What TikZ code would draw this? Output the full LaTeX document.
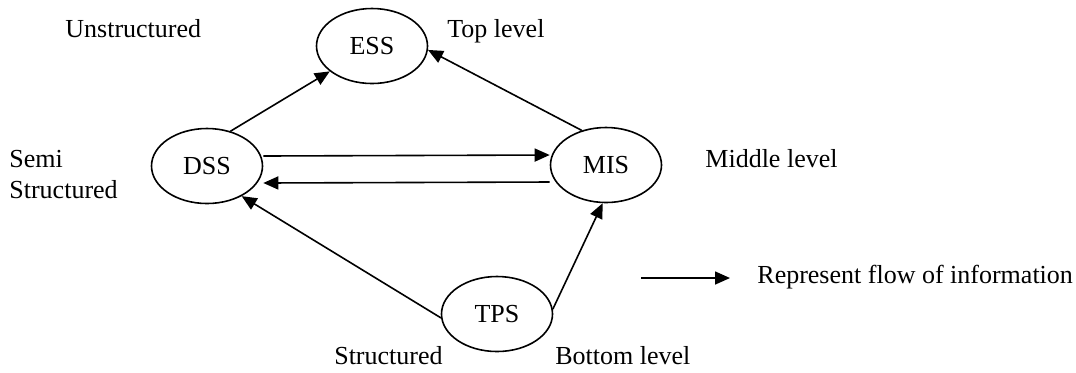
\documentclass[tikz,border=0pt]{standalone}
\usepackage{fontspec}
\setmainfont{Liberation Serif}
\usetikzlibrary{positioning,arrows.meta,shapes.geometric}
\tikzset{
  sys/.style={ellipse,draw,line width=0.8pt,minimum width=55.5pt,minimum height=37.5pt,inner sep=0pt},
  flow/.style={line width=0.8pt,-{Triangle[length=7.5pt,width=6.5pt]}},
  lab/.style={anchor=base west,inner sep=0pt},
  every picture/.style={font=\fontsize{13}{15}\selectfont}
}
\begin{document}
\begin{tikzpicture}[x=0.5pt,y=-0.5pt]
    \useasboundingbox (0,0) rectangle (1076,372);
    % systems
    \node[sys] (ESS) at (372,46) {ESS};
    \node[sys] (DSS) at (207,166) {DSS};
    \node[sys] (MIS) at (606,165) {MIS};
    \node[sys] (TPS) at (497,314) {TPS};
    % level labels
    \node[lab] (unst) at (65,37) {Unstructured};
    \node[lab] (top) at (447,37) {Top level};
    \node[lab] (semi) at (9,167) {Semi};
    \node[lab] (semist) at (9,198) {Structured};
    \node[lab] (mid) at (705,167) {Middle level};
    \node[lab,anchor=base east] (st) at (443,364) {Structured};
    \node[lab] (bot) at (555,364) {Bottom level};
    % flows
    \draw[flow] (DSS.56) -- (ESS.211);
    \draw[flow] (MIS.125) -- (ESS.-4);
    \draw[flow] ([yshift=5pt]DSS.east) -- ([yshift=5pt]MIS.west);
    \draw[flow] ([yshift=-8.5pt]MIS.west) -- ([yshift=-8.5pt]DSS.east);
    \draw[flow] (TPS.184) -- (DSS.-41);
    \draw[flow] (TPS.5) -- (MIS.-95);
    % legend
    \coordinate (legS) at (641,278);
    \coordinate (legE) at (730,278);
    \draw[flow] (legS) -- (legE);
    \node[lab] (leg) at (757,283) {Represent flow of information};
\end{tikzpicture}
\end{document}
